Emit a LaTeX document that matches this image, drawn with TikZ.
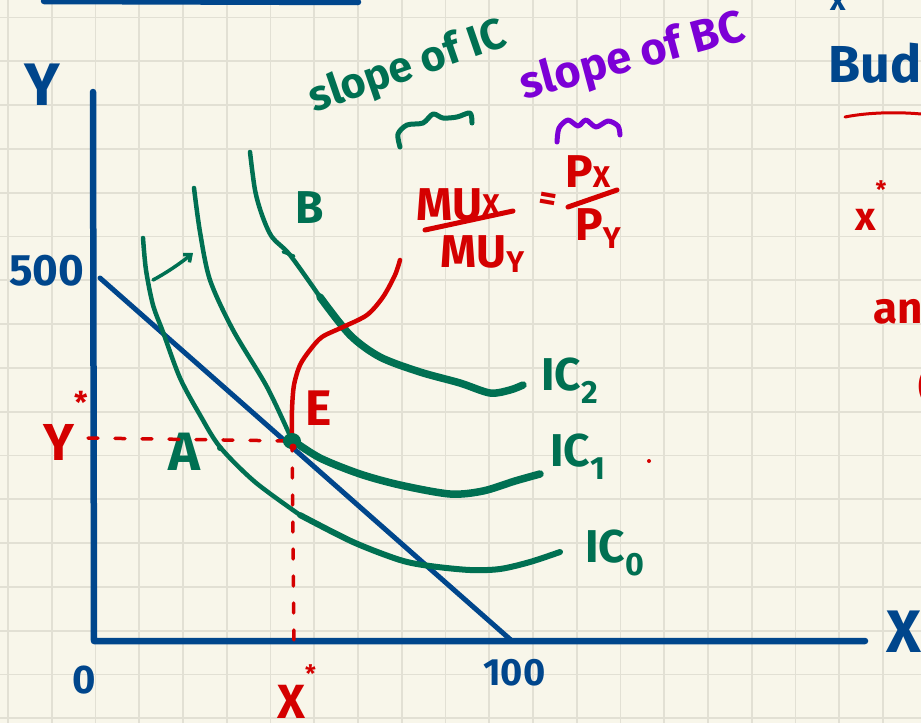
\documentclass[tikz,border=0pt]{standalone}
\usepackage{fontspec}
\setmainfont{Fira Sans}
\usepackage{xcolor}
\usepackage{tikz}
\usetikzlibrary{
    arrows.meta,
    calc,
}
\definecolor{inkblue}{RGB}{0,70,140}
\definecolor{inkgreen}{RGB}{0,112,82}
\definecolor{inkred}{RGB}{212,0,0}
\definecolor{inkpurple}{RGB}{124,0,214}
\definecolor{paper}{RGB}{248,246,234}
\definecolor{gridline}{RGB}{226,224,212}
\newcommand{\handidx}[2]{\raisebox{#1}{\fontsize{30}{30}\selectfont #2}}
\tikzset{
    % Pen styles
    penline/.style={line cap=round, line join=round},
    grid rule/.style={draw=gridline, line width=1.8pt},
    axis line/.style={penline, draw=inkblue, line width=6.5pt},
    budget line/.style={penline, draw=inkblue, line width=5pt},
    ic thin/.style={penline, draw=inkgreen, line width=4.5pt},
    ic thick/.style={penline, draw=inkgreen, line width=7.5pt},
    guide/.style={penline, draw=inkred, line width=3.5pt, dash pattern=on 10pt off 17pt},
    expansion/.style={penline, draw=inkred, line width=4.5pt},
    fraction bar/.style={penline, draw=inkred, line width=5pt},
    brace/.style={penline, line width=5pt},
    % Text styles
    hand/.style={font=\fontsize{#1}{#1}\selectfont\bfseries, inner sep=0pt, anchor=base west},
}

\begin{document}
\begin{tikzpicture}[x=1pt, y=-1pt]
    % Paper
    \useasboundingbox (0,0) rectangle (921,723);
    \fill[paper] (0,0) rectangle (921,723);
    \foreach \gx in {0,...,20} {
        \draw[grid rule] ({8+43.75*\gx},0) -- ({8+43.75*\gx},723);
    }
    \foreach \gy in {0,...,16} {
        \draw[grid rule] (0,{17.5+43.8*\gy}) -- (921,{17.5+43.8*\gy});
    }

    % Leftovers at the page edges
    \draw[axis line] (44,1) -- (358,2);
    \node[hand=30, text=inkblue] (topx) at (830,10) {x};
    \node[hand=52, text=inkblue] (budget) at (828,82) {Budget};
    \draw[penline, draw=inkred, line width=3pt] (845,117) .. controls (870,112) and (900,112) .. (921,114);
    \node[hand=40, text=inkred] (xstarnote) at (855,230) {x\raisebox{0.8em}{\fontsize{24}{24}\selectfont *}};
    \node[hand=44, text=inkred] (andnote) at (873,323) {and};
    \node[hand=40, text=inkred] (parnote) at (918,400) {(};

    % Axes
    \coordinate (ytop) at (93,92);
    \coordinate (origin) at (94,641);
    \coordinate (xend) at (865,641);
    \draw[axis line] (ytop) -- (origin) -- (xend);
    \node[hand=60, text=inkblue] (ylabel) at (24,105) {Y};
    \node[hand=60, text=inkblue] (xlabel) at (886,652) {X};
    \node[hand=40, text=inkblue] (zero) at (72,693) {0};
    \node[hand=38, text=inkblue] (hundred) at (483,685) {100};
    \node[hand=44, text=inkblue] (fivehundred) at (9,285) {500};

    % Budget constraint
    \coordinate (bctop) at (100,278);
    \coordinate (bcend) at (512,641);
    \draw[budget line] (bctop) -- (bcend);

    % Indifference curves
    \draw[ic thin] plot[smooth] coordinates {(143,238) (146,270) (153,305) (163,332) (180,378) (200,415) (220,447) (255,482) (300,515)};
    \draw[ic thick, line width=6pt] plot[smooth] coordinates {(300,515) (353,542) (400,560) (430,566) (470,570) (500,569) (530,562) (560,552)};
    \draw[ic thin] plot[smooth] coordinates {(194,188) (200,232) (210,280) (233,330) (267,387) (292,440)};
    \draw[ic thick] plot[smooth] coordinates {(292,440) (320,458) (360,474) (400,485) (450,494) (483,491) (515,481) (540,474)};
    \draw[ic thin] plot[smooth] coordinates {(250,152) (255,190) (262,215) (272,237) (290,255) (320,297)};
    \draw[ic thick] plot[smooth] coordinates {(320,297) (350,335) (380,357) (420,372) (460,383) (490,393) (510,390) (523,385)};
    \node[hand=46, text=inkgreen] (ictwo) at (541,390) {IC\textsubscript{2}};
    \node[hand=46, text=inkgreen] (icone) at (550,466) {IC\textsubscript{1}};
    \node[hand=46, text=inkgreen] (iczero) at (585,562) {IC\textsubscript{0}};
    \fill[inkred] (649,461) circle (2);

    % Points A and B
    \coordinate (arrowtail) at (153,280);
    \coordinate (arrowtip) at (193,253);
    \draw[penline, draw=inkgreen, line width=3.5pt, -{Straight Barb[length=6pt, width=10pt]}]
        (arrowtail) .. controls (168,272) and (182,262) .. (arrowtip);
    \fill[inkgreen] (220,448) circle (3);
    \draw[penline, draw=inkgreen, line width=3pt] (283,252) -- (294,256);
    \node[hand=54, text=inkgreen] (pointA) at (168,470) {A};
    \node[hand=46, text=inkgreen] (pointB) at (295,223) {B};

    % Optimum E
    \coordinate (E) at (292,441);
    \coordinate (ystar) at (88,438);
    \coordinate (xstar) at (294,641);
    \draw[guide] (ystar) -- (E);
    \draw[guide] (E) -- (xstar);
    \draw[expansion] plot[smooth] coordinates {(292,440) (292,410) (294,385) (300,365) (310,350) (322,337) (343,327) (367,315) (383,297) (395,275) (400,260)};
    \fill[inkgreen] (E) ellipse (9 and 8);
    \fill[inkred] ($(E)+(1,6)$) circle (3.5);
    \node[hand=50, text=inkred] (pointE) at (305,425) {E};
    \node[hand=52, text=inkred] (ylevel) at (43,460) {Y\raisebox{0.9em}{\fontsize{30}{30}\selectfont *}};
    \node[hand=48, text=inkred] (xlevel) at (277,718) {X\raisebox{0.75em}{\fontsize{24}{24}\selectfont *}};

    % Tangency condition
    \node[hand=46, text=inkred] (muxnum) at (416,220) {MU\handidx{5pt}{X}};
    \draw[fraction bar] (425,230) -- (513,211);
    \node[hand=46, text=inkred] (muyden) at (440,267) {MU\handidx{-5pt}{Y}};
    \node[hand=34, text=inkred, anchor=center, rotate=-10] (eqsign) at (548,202) {=};
    \node[hand=46, text=inkred] (pxnum) at (565,187) {P\handidx{0pt}{X}};
    \draw[fraction bar] (568,207) -- (617,190);
    \node[hand=46, text=inkred] (pyden) at (575,240) {P\handidx{-8pt}{Y}};

    % Slope notes
    \node[hand=43, text=inkgreen, anchor=center, rotate=19] (slopeic) at (408,68) {slope of IC};
    \draw[brace, draw=inkgreen] plot[smooth] coordinates {(400,147) (398,134) (407,125) (423,123) (433,114) (443,118) (457,117) (470,113) (472,123)};
    \node[hand=45, text=inkpurple, anchor=center, rotate=15] (slopebc) at (633,58) {slope of BC};
    \draw[brace, draw=inkpurple] plot[smooth] coordinates {(557,142) (559,128) (568,120) (578,126) (586,120) (596,127) (608,121) (618,126) (620,135)};
\end{tikzpicture}
\end{document}
